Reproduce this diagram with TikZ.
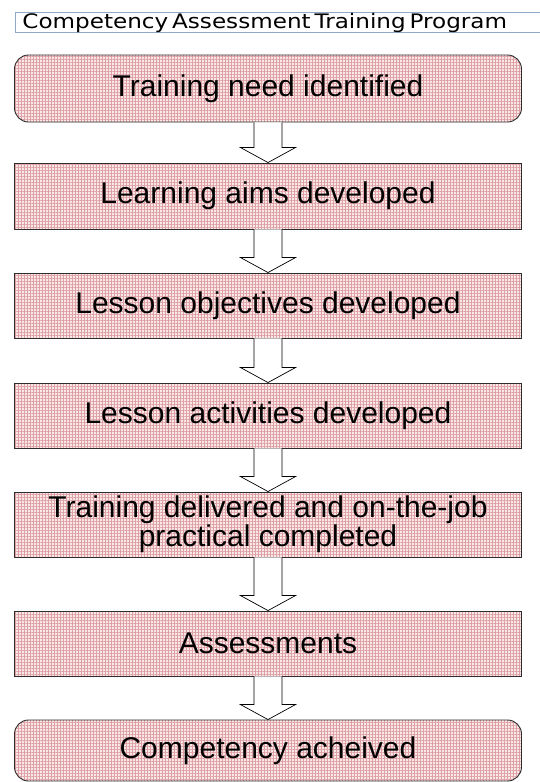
\documentclass[tikz,border=0pt]{standalone}
\usepackage{fontspec}
\setmainfont{Liberation Sans}
\newfontfamily\titlefont{DejaVu Sans}
\usetikzlibrary{patterns.meta,calc}
\definecolor{boxbase}{RGB}{248,232,232}
\definecolor{boxline}{RGB}{222,160,165}
\definecolor{titleblue}{RGB}{140,170,200}
\definecolor{edge}{RGB}{45,45,45}
\newcommand\flowarrow[2]{%
  \draw[blockarrow] ($(#1.south)+(-14,0)$) -- ($(#2.north)+(-14,-15)$) -- ($(#2.north)+(-27.5,-15)$)
    -- (#2.north) -- ($(#2.north)+(27.5,-15)$) -- ($(#2.north)+(14,-15)$) -- ($(#1.south)+(14,0)$);}
\begin{document}
\begin{tikzpicture}[x=1pt,y=-1pt,
  stepbox/.style={draw=edge, line width=0.9pt, minimum width=507pt, inner sep=0pt, align=center,
    font=\fontsize{30}{27}\selectfont, preaction={fill=boxbase},
    pattern={Hatch[distance=3pt,line width=0.9pt]}, pattern color=boxline},
  roundbox/.style={stepbox, rounded corners=14pt},
  blockarrow/.style={draw=black, line width=0.7pt, fill=white, line join=miter}]
\useasboundingbox (0,0) rectangle (539,782);
\node (title) [draw=titleblue, line width=0.8pt, anchor=west, minimum width=530pt, minimum height=20pt,
  inner xsep=7pt, inner ysep=0pt, text width=516pt, align=left, text height=15pt, text depth=3pt]
  at (15,22) {\titlefont\fontsize{20}{20}\selectfont\scalebox{1.155}[1]{Competency Assessment Training Program}};
\node (n1) [roundbox, minimum height=67pt] at (268,88.5) {Training need identified};
\node (n2) [stepbox, minimum height=66pt] at (268,196) {Learning aims developed};
\node (n3) [stepbox, minimum height=65pt] at (268,305.5) {Lesson objectives developed};
\node (n4) [stepbox, minimum height=65pt] at (268,415.5) {Lesson activities developed};
\node (n5) [stepbox, minimum height=65pt] at (268,524.5) {Training delivered and on-the-job\\practical completed};
\node (n6) [stepbox, minimum height=65pt] at (268,643.5) {Assessments};
\node (n7) [roundbox, minimum height=61pt] at (268,750.5) {Competency acheived};
\flowarrow{n1}{n2}
\flowarrow{n2}{n3}
\flowarrow{n3}{n4}
\flowarrow{n4}{n5}
\flowarrow{n5}{n6}
\flowarrow{n6}{n7}
\end{tikzpicture}
\end{document}
